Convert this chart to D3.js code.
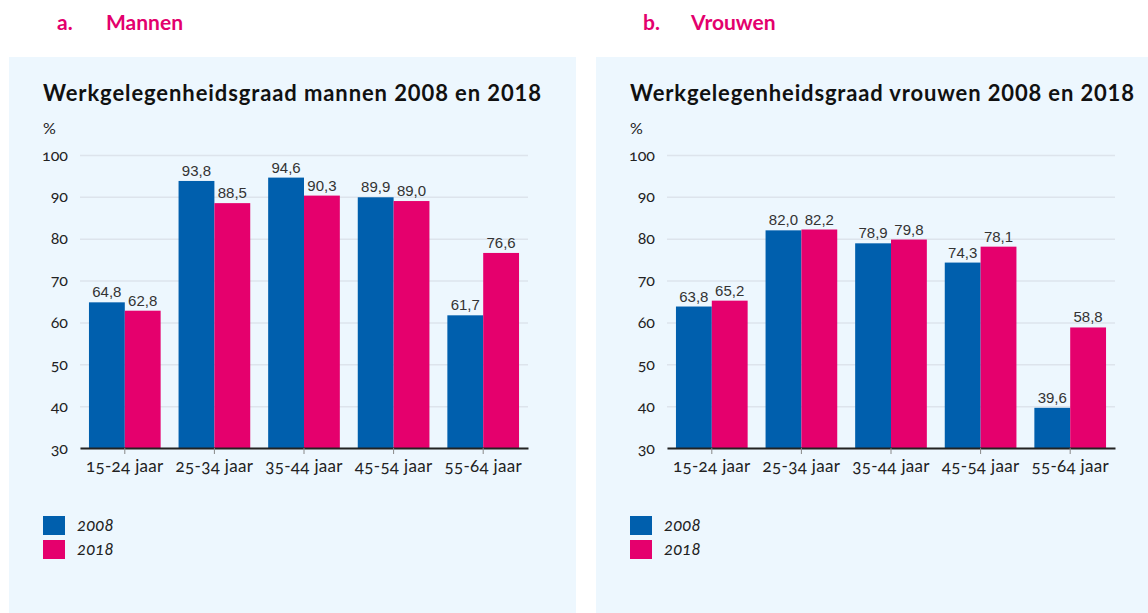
<!DOCTYPE html>
<html>
<head>
<meta charset="utf-8">
<script src="https://d3js.org/d3.v7.min.js"></script>
<style>
  body { margin: 0; background: #fff; }
  svg { display: block; }
  .tick-lab { font-family: Lato, "Open Sans", sans-serif; font-variant-numeric: oldstyle-nums; font-feature-settings: "onum"; }
</style>
</head>
<body>
<div id="chart"></div>
<script>
// categories and values
const ageGroups = ["15-24 jaar", "25-34 jaar", "35-44 jaar", "45-54 jaar", "55-64 jaar"];
const years = ["2008", "2018"];
const men2008 = [64.8, 93.8, 94.6, 89.9, 61.7];
const men2018 = [62.8, 88.5, 90.3, 89.0, 76.6];
const women2008 = [63.8, 82.0, 78.9, 74.3, 39.6];
const women2018 = [65.2, 82.2, 79.8, 78.1, 58.8];
const yTicks = [30, 40, 50, 60, 70, 80, 90, 100];

const panels = [
  { letter: "a.", name: "Mannen", title: "Werkgelegenheidsgraad mannen 2008 en 2018", s1: men2008, s2: men2018, offset: 0, letterX: 57, nameX: 106 },
  { letter: "b.", name: "Vrouwen", title: "Werkgelegenheidsgraad vrouwen 2008 en 2018", s1: women2008, s2: women2018, offset: 587, letterX: 643, nameX: 691 }
];

const colors = { "2008": "#005fad", "2018": "#e5006d" };
const W = 1148, H = 613;

const svg = d3.select("#chart").append("svg")
  .attr("width", W).attr("height", H);

const x0 = d3.scaleBand().domain(ageGroups).range([80, 528]).paddingInner(0.2).paddingOuter(0.1);
const x1 = d3.scaleBand().domain(years).range([0, x0.bandwidth()]);
const y = d3.scaleLinear().domain([30, 100]).range([448, 155]);

const fmt = v => d3.format(".1f")(v).replace(".", ",");

panels.forEach(p => {
  // heading above panel
  svg.append("text").attr("x", p.letterX).attr("y", 30)
    .attr("font-family", "Lato, sans-serif").attr("font-weight", "bold")
    .attr("font-size", 21).attr("fill", "#e3006d").text(p.letter);
  svg.append("text").attr("x", p.nameX).attr("y", 30)
    .attr("font-family", "Lato, sans-serif").attr("font-weight", "bold")
    .attr("font-size", 21).attr("fill", "#e3006d").text(p.name);

  const g = svg.append("g").attr("transform", `translate(${p.offset},0)`);

  const bgW = p.offset === 0 ? 567 : W - 595;
  g.append("rect").attr("x", 9).attr("y", 57).attr("width", bgW).attr("height", H - 57)
    .attr("fill", "#edf7fe");

  g.append("text").attr("x", 43).attr("y", 101)
    .attr("font-family", "Lato, sans-serif").attr("font-weight", "bold")
    .attr("font-size", 22).attr("fill", "#111")
    .attr("textLength", p.offset === 0 ? 498 : 504).attr("lengthAdjust", "spacing")
    .text(p.title);

  g.append("text").attr("x", 43).attr("y", 134)
    .attr("font-family", "Lato, sans-serif").attr("font-size", 16).attr("fill", "#222").text("%");

  // y axis with gridlines
  const yAxis = g.append("g").attr("transform", "translate(80,0)")
    .call(d3.axisLeft(y).tickValues(yTicks).tickSize(-448).tickPadding(12));
  yAxis.select(".domain").remove();
  yAxis.selectAll(".tick line").attr("stroke", "#dde4ec").attr("stroke-width", 1.5);
  yAxis.selectAll(".tick text").attr("class", "tick-lab")
    .attr("font-size", 16).attr("fill", "#222");

  const rows = ageGroups.map((a, i) => ({ age: a, vals: [
    { year: "2008", v: p.s1[i] }, { year: "2018", v: p.s2[i] }] }));

  const grp = g.selectAll(".grp").data(rows).join("g")
    .attr("transform", d => `translate(${x0(d.age)},0)`);

  grp.selectAll("rect").data(d => d.vals).join("rect")
    .attr("x", d => x1(d.year))
    .attr("y", d => y(d.v))
    .attr("width", x1.bandwidth())
    .attr("height", d => y(30) - y(d.v))
    .attr("fill", d => colors[d.year]);

  grp.selectAll(".val").data(d => d.vals).join("text")
    .attr("class", "val")
    .attr("x", d => x1(d.year) + x1.bandwidth() / 2)
    .attr("y", d => y(d.v) - 5)
    .attr("text-anchor", "middle")
    .attr("font-family", "Liberation Sans, Arial, sans-serif")
    .attr("font-size", 15).attr("fill", "#333")
    .text(d => fmt(d.v));

  // x axis
  const xAxis = g.append("g").attr("transform", "translate(0,448)")
    .call(d3.axisBottom(x0).tickSize(6).tickSizeOuter(0).tickPadding(6));
  xAxis.select(".domain").attr("stroke", "#222").attr("stroke-width", 2);
  xAxis.selectAll(".tick line").attr("stroke", "#888");
  xAxis.selectAll(".tick text").attr("class", "tick-lab")
    .attr("font-size", 17).attr("letter-spacing", 0.3).attr("fill", "#222");

  // legend
  const leg = g.selectAll(".leg").data(years).join("g")
    .attr("transform", (d, i) => `translate(43,${516 + i * 24})`);
  leg.append("rect").attr("width", 22).attr("height", 19).attr("fill", d => colors[d]);
  leg.append("text").attr("x", 34).attr("y", 15)
    .attr("class", "tick-lab")
    .attr("font-style", "italic").attr("font-size", 17).attr("fill", "#222")
    .text(d => d);
});
</script>
</body>
</html>
